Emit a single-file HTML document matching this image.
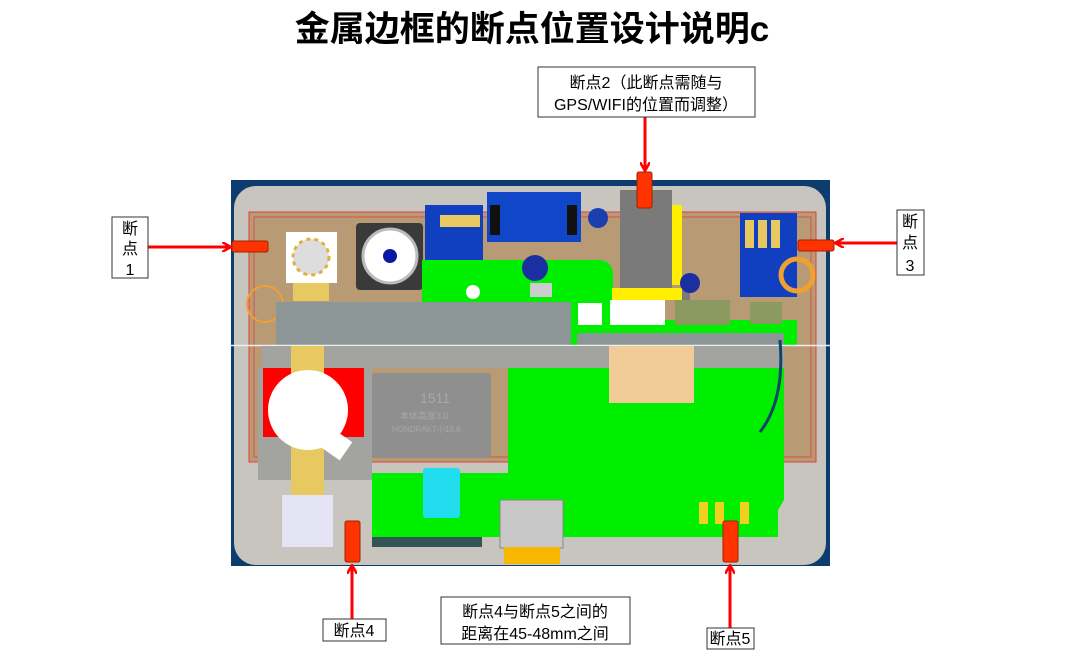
<!DOCTYPE html>
<html><head><meta charset="utf-8"><style>
html,body{margin:0;padding:0;background:#fff;width:1080px;height:656px;overflow:hidden}
svg{display:block}
text{font-family:"Liberation Sans","Noto Sans CJK SC",sans-serif}
</style></head><body>
<svg width="1080" height="656" viewBox="0 0 1080 656" xmlns="http://www.w3.org/2000/svg">
<defs>
<marker id="ah" markerWidth="10" markerHeight="10" refX="8" refY="5" orient="auto" markerUnits="userSpaceOnUse"><path d="M0,0 L9,5 L0,10" fill="none" stroke="#f00" stroke-width="2.5"/></marker>
</defs>
<text x="532" y="41" font-size="35" font-weight="bold" text-anchor="middle" fill="#000">金属边框的断点位置设计说明c</text>

<!-- board -->
<rect x="231" y="180" width="599" height="386" fill="#0d3d6e"/>
<rect x="234" y="186" width="592" height="379" rx="22" fill="#c8c5be"/>
<rect x="249" y="212" width="567" height="250" fill="#b89a74" stroke="#e04040" stroke-width="1"/>
<rect x="254" y="217" width="557" height="240" fill="none" stroke="#e04040" stroke-width="0.8"/>
<rect x="258" y="368" width="114" height="112" fill="#a3a3a0"/>
<!-- upper parts -->
<rect x="286" y="232" width="51" height="51" fill="#fff"/>
<circle cx="311" cy="257" r="18" fill="#ddd" stroke="#e0b040" stroke-width="3" stroke-dasharray="4 4"/>
<rect x="293" y="283" width="36" height="18" fill="#e8c860"/>
<rect x="356" y="223" width="67" height="67" rx="4" fill="#3a3a3a"/>
<circle cx="390" cy="256" r="27" fill="#fff" stroke="#bbb" stroke-width="3"/>
<circle cx="390" cy="256" r="7" fill="#0a1aa0"/>
<rect x="425" y="205" width="58" height="55" fill="#1040c0"/>
<rect x="440" y="215" width="40" height="12" fill="#e8c860"/>
<rect x="487" y="192" width="94" height="50" fill="#1046c8"/>
<rect x="490" y="205" width="10" height="30" fill="#111"/>
<rect x="567" y="205" width="10" height="30" fill="#111"/>
<circle cx="598" cy="218" r="10" fill="#1a40b0"/>
<path d="M422 260 H600 Q613 262 613 275 V320 H797 V345 H422 Z" fill="#00ee00"/>
<circle cx="473" cy="292" r="7" fill="#fff"/>
<circle cx="535" cy="268" r="13" fill="#1a30a0"/>
<rect x="530" y="283" width="22" height="14" fill="#ccc"/>
<path d="M620 190 H672 V290 H690 V300 H620 Z" fill="#7a7a7a"/>
<rect x="672" y="205" width="10" height="80" fill="#ffee00"/>
<rect x="612" y="288" width="70" height="12" fill="#ffee00"/>
<circle cx="690" cy="283" r="10" fill="#1a30a0"/>
<rect x="740" y="213" width="57" height="84" fill="#1040c0"/>
<rect x="745" y="220" width="9" height="28" fill="#e8c860"/><rect x="758" y="220" width="9" height="28" fill="#e8c860"/><rect x="771" y="220" width="9" height="28" fill="#e8c860"/>
<circle cx="797" cy="275" r="16" fill="none" stroke="#f0a030" stroke-width="5"/>
<rect x="578" y="303" width="24" height="22" fill="#fff"/>
<rect x="610" y="300" width="55" height="25" fill="#fff"/>
<rect x="675" y="300" width="55" height="25" fill="#8a9a60"/>
<rect x="750" y="302" width="32" height="22" fill="#8a9a60"/>
<circle cx="265" cy="304" r="18" fill="none" stroke="#f0a030" stroke-width="2"/>
<rect x="276" y="302" width="295" height="43" fill="#8c9696"/>
<rect x="577" y="333" width="207" height="12" rx="2" fill="#8c9696"/>
<line x1="231" y1="345.5" x2="830" y2="345.5" stroke="#eee" stroke-width="1.5"/>
<!-- lower -->
<rect x="262" y="346" width="522" height="22" fill="#a3a3a0"/>
<path d="M508 368 H784 V500 L778 510 V537 H372 V473 H508 Z" fill="#00ee00"/>
<rect x="609" y="346" width="85" height="57" fill="#f2cc98"/>
<rect x="263" y="368" width="101" height="69" fill="#f00"/>
<rect x="372" y="373" width="119" height="85" rx="3" fill="#8f8f8f"/>
<text x="420" y="403" font-size="14" fill="#a8a8a8">1511</text>
<text x="400" y="419" font-size="9" fill="#a8a8a8">本体高度3.0</text>
<text x="392" y="432" font-size="8" fill="#a8a8a8">HONDRAKT小10.6</text>
<rect x="291" y="346" width="33" height="150" fill="#e8c860"/>
<circle cx="308" cy="410" r="40" fill="#fff"/>
<rect x="326" y="434" width="22" height="22" fill="#fff" transform="rotate(35 337 445)"/>
<rect x="282" y="495" width="51" height="52" fill="#e4e4f4"/>
<rect x="423" y="468" width="37" height="50" rx="3" fill="#22ddee"/>
<path d="M780 340 Q785 400 760 432" fill="none" stroke="#114466" stroke-width="3"/>
<rect x="500" y="500" width="63" height="48" fill="#c8c8c8" stroke="#888" stroke-width="1"/>
<rect x="504" y="547" width="56" height="17" fill="#f8b800"/>
<rect x="699" y="502" width="9" height="22" fill="#f0d020"/><rect x="715" y="502" width="9" height="22" fill="#f0d020"/><rect x="740" y="502" width="9" height="22" fill="#f0d020"/>
<rect x="372" y="537" width="110" height="10" fill="#335555"/>
<!-- break markers -->
<rect x="232" y="241" width="36" height="11" rx="2" fill="#ff3300" stroke="#a02000"/>
<rect x="637" y="172" width="15" height="36" rx="2" fill="#ff3300" stroke="#a02000"/>
<rect x="798" y="240" width="36" height="11" rx="2" fill="#ff3300" stroke="#a02000"/>
<rect x="345" y="521" width="15" height="41" rx="2" fill="#ff3300" stroke="#a02000"/>
<rect x="723" y="521" width="15" height="41" rx="2" fill="#ff3300" stroke="#a02000"/>
<!-- arrows -->
<line x1="148" y1="247" x2="230" y2="247" stroke="#f00" stroke-width="3" marker-end="url(#ah)"/>
<line x1="897" y1="243" x2="836" y2="243" stroke="#f00" stroke-width="3" marker-end="url(#ah)"/>
<line x1="645" y1="117" x2="645" y2="170" stroke="#f00" stroke-width="3" marker-end="url(#ah)"/>
<line x1="352" y1="619" x2="352" y2="566" stroke="#f00" stroke-width="3" marker-end="url(#ah)"/>
<line x1="730" y1="628" x2="730" y2="566" stroke="#f00" stroke-width="3" marker-end="url(#ah)"/>
<!-- labels -->
<rect x="112" y="217" width="36" height="61" fill="#fff" stroke="#333"/>
<text x="130" y="234" font-size="16" text-anchor="middle">断</text>
<text x="130" y="254" font-size="16" text-anchor="middle">点</text>
<text x="130" y="275" font-size="16" text-anchor="middle">1</text>
<rect x="897" y="210" width="27" height="65" fill="#fff" stroke="#333"/>
<text x="910" y="227" font-size="16" text-anchor="middle">断</text>
<text x="910" y="248" font-size="16" text-anchor="middle">点</text>
<text x="910" y="271" font-size="16" text-anchor="middle">3</text>
<rect x="538" y="67" width="217" height="50" fill="#fff" stroke="#333"/>
<text x="646" y="88" font-size="16" text-anchor="middle">断点2（此断点需随与</text>
<text x="646" y="110" font-size="16" text-anchor="middle">GPS/WIFI的位置而调整）</text>
<rect x="323" y="619" width="63" height="22" fill="#fff" stroke="#333"/>
<text x="354" y="636" font-size="16" text-anchor="middle">断点4</text>
<rect x="441" y="597" width="189" height="47" fill="#fff" stroke="#333"/>
<text x="535" y="617" font-size="16" text-anchor="middle">断点4与断点5之间的</text>
<text x="535" y="639" font-size="16" text-anchor="middle">距离在45-48mm之间</text>
<rect x="707" y="628" width="47" height="21" fill="#fff" stroke="#333"/>
<text x="730" y="644" font-size="16" text-anchor="middle">断点5</text>
</svg>
</body></html>
